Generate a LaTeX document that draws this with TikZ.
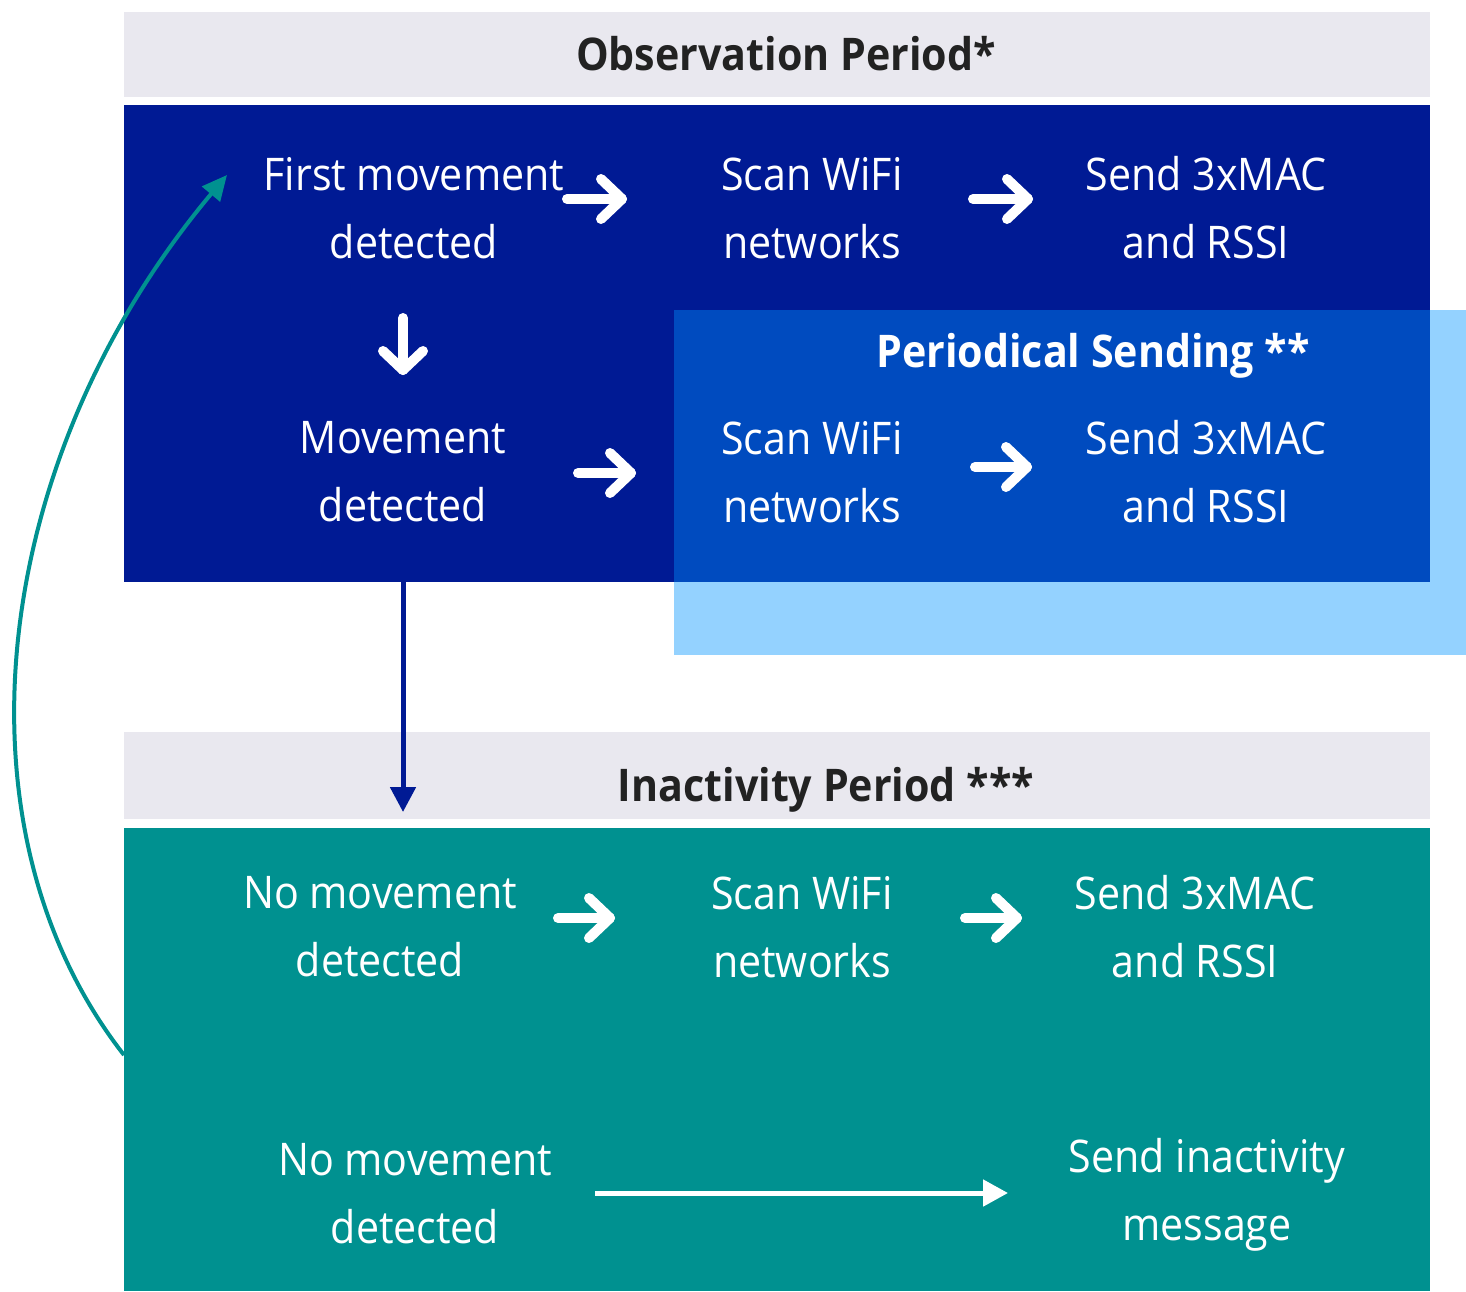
\documentclass[tikz,border=0pt]{standalone}
\usepackage{fontspec}
\setmainfont{Open Sans}[FakeStretch=0.915]
\usetikzlibrary{arrows.meta}
\definecolor{navy}{HTML}{001A94}
\definecolor{midblue}{HTML}{004BBF}
\definecolor{lightblue}{HTML}{94D2FF}
\definecolor{tealc}{HTML}{009190}
\definecolor{grayband}{HTML}{E9E8EF}
\definecolor{headtext}{HTML}{222222}
\tikzset{
  txt/.style={font=\fontsize{45pt}{68pt}\selectfont, text=white, align=center, inner sep=0pt},
  headtxt/.style={font=\fontsize{45pt}{54pt}\selectfont\bfseries, text=headtext, inner sep=0pt},
  chev/.style={draw=white, line width=10pt, line cap=round, line join=round},
}
\begin{document}
\begin{tikzpicture}[x=1pt,y=-1pt]
\useasboundingbox (0,0) rectangle (1466,1291);
% boxes
\fill[grayband] (124,12) rectangle (1430,97);
\fill[navy] (124,105) rectangle (1430,582);
\fill[lightblue] (674,310) rectangle (1466,655);
\fill[midblue] (674,310) rectangle (1430,582);
\fill[grayband] (124,732) rectangle (1430,819);
\fill[tealc] (124,828) rectangle (1430,1291);

% headers
\node[headtxt] (obs) at (786,54) {Observation Period*};
\node[headtxt] (inact) at (826,790) {Inactivity Period ***};
\node[headtxt, text=white] (per) at (1093,356) {Periodical Sending **};

% text nodes
\node[txt] (fm) at (414,208) {First movement\\detected};
\node[txt] (sw1) at (812,208) {Scan WiFi\\networks};
\node[txt] (sm1) at (1206,208) {Send 3xMAC\\and RSSI};
\node[txt] (md) at (403,472) {Movement\\detected};
\node[txt] (sw2) at (812,472) {Scan WiFi\\networks};
\node[txt] (sm2) at (1206,472) {Send 3xMAC\\and RSSI};
\node[txt] (nm1) at (380,927) {No movement\\detected};
\node[txt] (sw3) at (802,927) {Scan WiFi\\networks};
\node[txt] (sm3) at (1195,927) {Send 3xMAC\\and RSSI};
\node[txt] (nm2) at (415,1194) {No movement\\detected};
\node[txt] (si) at (1207,1195) {Send inactivity\\message};

% chevron arrows
\coordinate (a1s) at (567,199); \coordinate (a1e) at (622,199);
\coordinate (a2s) at (973,199); \coordinate (a2e) at (1028,199);
\coordinate (a3s) at (578,473); \coordinate (a3e) at (631,473);
\coordinate (a4s) at (975,467); \coordinate (a4e) at (1027,467);
\coordinate (a5s) at (558,918); \coordinate (a5e) at (610,918);
\coordinate (a6s) at (965,918); \coordinate (a6e) at (1017,918);
\foreach \a in {a1,a2,a3,a4,a5,a6}{
  \draw[chev] (\a s) -- (\a e);
  \draw[chev] ([shift={(-21,-20)}]\a e) -- (\a e) -- ([shift={(-21,20)}]\a e);
}
\coordinate (dds) at (403,318); \coordinate (dde) at (403,370);
\draw[chev] (dds) -- (dde);
\draw[chev] ([shift={(-20,-19)}]dde) -- (dde) -- ([shift={(20,-19)}]dde);

% navy connector to inactivity period
\coordinate (navyout) at (403,582);
\coordinate (inactin) at (403,812);
\draw[navy, line width=5pt, -{Triangle[length=25pt,width=25pt]}] (navyout) -- (inactin);

% long white arrow
\coordinate (las) at (595,1193);
\coordinate (lae) at (1008,1193);
\draw[white, line width=5pt, -{Triangle[length=25pt,width=26pt]}] (las) -- (lae);

% teal loop back
\coordinate (loopstart) at (124,1055);
\coordinate (loopend) at (227,175);
\draw[tealc, line width=4pt, -{Triangle[length=25pt,width=23pt]}] (loopstart) .. controls (-52,830) and (-12,460) .. (loopend);
\end{tikzpicture}
\end{document}
